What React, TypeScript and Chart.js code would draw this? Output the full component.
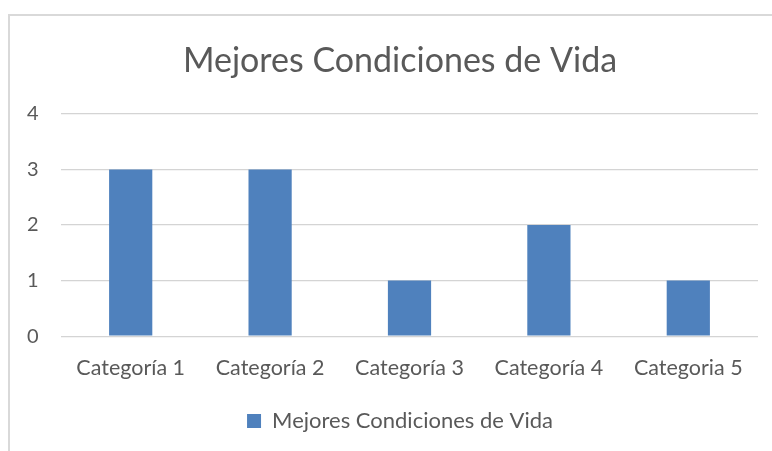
import React, { useEffect, useRef } from "react";
import { Chart, registerables } from "chart.js";

Chart.register(...registerables);

const categories = ["Categoría 1", "Categoría 2", "Categoría 3", "Categoría 4", "Categoria 5"];
const seriesName = "Mejores Condiciones de Vida";
const seriesValues = [3, 3, 1, 2, 1];
const chartTitle = "Mejores Condiciones de Vida";
const yMin = 0;
const yMax = 4;
const yStep = 1;

const FONT = "Lato, 'Open Sans', sans-serif";
const TEXT = "#595959";
const GRID = "#D4D4D4";
const BAR = "#4F81BD";

export default function App() {
  const ref = useRef<HTMLCanvasElement | null>(null);

  useEffect(() => {
    if (!ref.current) return;
    const chart = new Chart(ref.current, {
      type: "bar",
      data: {
        labels: categories,
        datasets: [
          {
            label: seriesName,
            data: seriesValues,
            backgroundColor: BAR,
            borderWidth: 0,
            barPercentage: 0.31,
            categoryPercentage: 1,
          },
        ],
      },
      options: {
        responsive: false,
        animation: false,
        layout: { padding: { left: 42, right: 42, top: 20, bottom: 9 } },
        plugins: {
          title: {
            display: true,
            text: chartTitle,
            color: TEXT,
            font: { family: FONT, size: 34, weight: "normal", lineHeight: 1.2 },
            padding: { top: 21, bottom: 32 },
          },
          legend: {
            display: true,
            position: "bottom",
            labels: {
              color: TEXT,
              boxWidth: 14,
              boxHeight: 14,
              font: { family: FONT, size: 22 },
              padding: 10,
            },
          },
          tooltip: { enabled: false },
        },
        scales: {
          x: {
            grid: { display: false, drawTicks: false },
            border: { display: false },
            ticks: {
              color: TEXT,
              font: { family: FONT, size: 21.5 },
              padding: 19,
              maxRotation: 0,
              autoSkip: false,
            },
          },
          y: {
            min: yMin,
            max: yMax,
            grid: { color: GRID, lineWidth: 1.3, drawTicks: false },
            border: { display: false },
            ticks: {
              stepSize: yStep,
              color: TEXT,
              font: { family: FONT, size: 20 },
              mirror: true,
              padding: -34,
            },
            afterFit: (scale: any) => {
              scale.width = 19;
            },
          },
        },
      },
    });
    return () => chart.destroy();
  }, []);

  return (
    <div
      style={{
        position: "absolute",
        left: 0,
        top: 0,
        width: 772,
        height: 451,
        overflow: "hidden",
        background: "#fff",
      }}
    >
      <div
        style={{
          position: "absolute",
          left: 8,
          top: 14,
          width: 800,
          height: 480,
          border: "2px solid #D9D9D9",
          boxSizing: "border-box",
        }}
      />
      <canvas
        ref={ref}
        width={800}
        height={451}
        style={{ position: "absolute", left: 0, top: 0, width: 800, height: 451 }}
      />
    </div>
  );
}
